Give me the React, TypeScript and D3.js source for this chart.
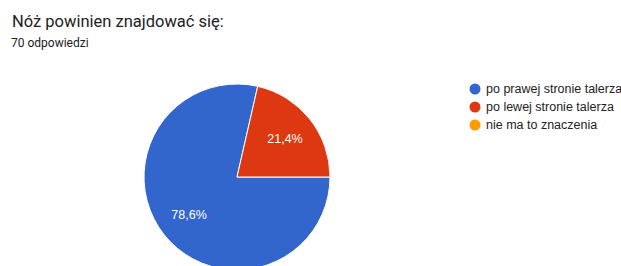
import React from "react";
import * as d3 from "d3";

// Answers and counts (70 responses)
const categories = ["po prawej stronie talerza", "po lewej stronie talerza", "nie ma to znaczenia"];
const counts = [55, 15, 0];
const colors = ["#3366cc", "#dc3912", "#ff9900"];
const sliceLabels = ["78,6%", "21,4%", ""];

const title = "Nóż powinien znajdować się:";
const subtitle = "70 odpowiedzi";

export default function App() {
	const width = 621;
	const height = 266;
	const cx = 237;
	const cy = 177;
	const radius = 93;

	const data = categories.map((c, i) => ({ name: c, value: counts[i], color: colors[i], label: sliceLabels[i] }));

	// google forms starts the first slice at 3 o'clock, clockwise
	const pie = d3
		.pie<any>()
		.sort(null)
		.value((d) => d.value)
		.startAngle(Math.PI / 2)
		.endAngle(Math.PI / 2 + 2 * Math.PI);
	const arcs = pie(data);
	const arc = d3.arc<any>().innerRadius(0).outerRadius(radius);
	const labelArc = d3.arc<any>().innerRadius(radius * 0.66).outerRadius(radius * 0.66);

	const legendY = d3.scalePoint<string>().domain(categories).range([89, 125]);

	return (
		<svg width={width} height={height} style={{ position: "absolute", left: 0, top: 0, background: "#fff" }}>
			<text x={12} y={27} fontFamily="Roboto" fontSize={16.5} fill="#202124">
				{title}
			</text>
			<text x={11} y={47} fontFamily="Roboto" fontSize={12} fill="#202124">
				{subtitle}
			</text>
			<g transform={`translate(${cx},${cy})`}>
				{arcs
					.filter((a) => a.data.value > 0)
					.map((a, i) => (
						<path key={i} d={arc(a) as string} fill={a.data.color} stroke="#fff" strokeWidth={1} />
					))}
				{arcs
					.filter((a) => a.data.value > 0)
					.map((a, i) => {
						const [x, y] = labelArc.centroid(a);
						return (
							<text
								key={i}
								x={x}
								y={y}
								textAnchor="middle"
								dominantBaseline="central"
								fontFamily="Arial, Liberation Sans"
								fontSize={12.5}
								fill="#fff"
							>
								{a.data.label}
							</text>
						);
					})}
			</g>
			<g>
				{categories.map((c, i) => (
					<g key={c} transform={`translate(475,${legendY(c)})`}>
						<circle r={5.5} fill={colors[i]} />
						<text x={11} y={0} dominantBaseline="central" fontFamily="Arial, Liberation Sans" fontSize={12.5} fill="#222">
							{c}
						</text>
					</g>
				))}
			</g>
		</svg>
	);
}
